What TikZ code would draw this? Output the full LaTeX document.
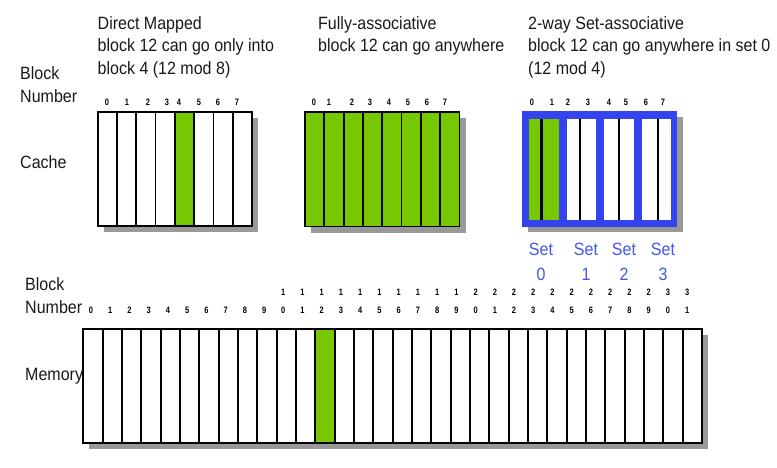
\documentclass[tikz,border=0pt]{standalone}
\usepackage{fontspec}
\setmainfont{Liberation Sans}[FakeStretch=0.9]
\newfontfamily\digitfont{Liberation Sans}[FakeStretch=0.8]
\definecolor{cgreen}{RGB}{118,200,0}
\definecolor{cblue}{RGB}{51,68,238}
\definecolor{ctext}{RGB}{68,85,238}
\definecolor{cshadow}{RGB}{153,153,153}
\definecolor{ctitle}{RGB}{25,25,25}
\tikzset{
  lbl/.style={anchor=base west,inner sep=0,text=ctitle,font=\fontsize{17.8}{21}\selectfont},
  dig/.style={anchor=base,inner sep=0,font=\digitfont\bfseries\fontsize{9.3}{10}\selectfont},
  blk/.style={draw=black,line width=1.8pt},
  shadowbox/.style={fill=cshadow,draw=none},
  setlbl/.style={anchor=base,inner sep=0,text=ctext,font=\fontsize{17.8}{21}\selectfont},
}
\begin{document}
\begin{tikzpicture}[x=1pt,y=-1pt]
\useasboundingbox (0,0) rectangle (777,468);

% ---------- left labels ----------
\node[lbl] (bn1a) at (20,80) {Block};
\node[lbl] (bn1b) at (20,102.7) {Number};
\node[lbl] (cache) at (20,168) {Cache};
\node[lbl] (bn2a) at (25,290) {Block};
\node[lbl] (bn2b) at (25,313) {Number};
\node[lbl] (mem) at (25,380) {Memory};

% ---------- titles ----------
\node[lbl] (dm1) at (97.5,29.5) {Direct Mapped};
\node[lbl] (dm2) at (97.5,52) {block 12 can go only into};
\node[lbl] (dm3) at (97.5,74.5) {block 4 (12 mod 8)};
\node[lbl] (fa1) at (318,29.5) {Fully-associative};
\node[lbl] (fa2) at (318,52) {block 12 can go anywhere};
\node[lbl] (sa1) at (528,29.5) {2-way Set-associative};
\node[lbl] (sa2) at (528,52) {block 12 can go anywhere in set 0};
\node[lbl] (sa3) at (528,74.5) {(12 mod 4)};

% ---------- direct mapped cache ----------
\fill[shadowbox] (103.7,118) rectangle (258,232);
\fill[white] (97.7,112) rectangle (252,226);
\fill[cgreen] ({97.7+4*19.29},112) rectangle ({97.7+5*19.29},226);
\foreach \i in {1,...,7} \draw[blk] ({97.7+\i*19.29},112) -- ({97.7+\i*19.29},226);
\draw[blk] (97.7,112) rectangle (252,226);
\foreach \x [count=\n from 0] in {107,127,148,167,179,199,218,237}
  \node[dig] (dmd\n) at (\x,105.5) {\n};

% ---------- fully associative cache ----------
\fill[shadowbox] (311,118) rectangle (465.5,232.5);
\fill[cgreen] (305,112) rectangle (459.5,226.5);
\foreach \i in {1,...,7} \draw[blk] ({305+\i*19.31},112) -- ({305+\i*19.31},226.5);
\draw[blk] (305,112) rectangle (459.5,226.5);
\foreach \x [count=\n from 0] in {314,329,352,370,389,408,427,445}
  \node[dig] (fad\n) at (\x,105.5) {\n};

% ---------- 2-way set associative cache ----------
\fill[shadowbox] (528,117) rectangle (683,232);
\fill[cblue] (522,111) rectangle (677,227);
\fill[cgreen] (529,119) rectangle (558.5,220);
\foreach \k in {1,2,3}
  \fill[white] ({529+37.5*\k},119) rectangle ({558.5+37.5*\k},220);
\foreach \x in {541.5,580,619,658}
  \draw[black,line width=2.3pt] (\x,119) -- (\x,220);
\foreach \x [count=\n from 0] in {532,552,568,588,609,626,646,663}
  \node[dig] (sad\n) at (\x,105.5) {\n};
\foreach \x [count=\n from 0] in {541,586,624,663}{
  \node[setlbl] (set\n) at (\x,255) {Set};
  \node[setlbl] (setn\n) at (\x,280) {\n};
}

% ---------- memory ----------
\fill[shadowbox] (89.3,335) rectangle (708,449);
\fill[white] (83.3,329) rectangle (702,443);
\fill[cgreen] ({83.3+12*19.334},329) rectangle ({83.3+13*19.334},443);
\foreach \i in {1,...,31} \draw[blk] ({83.3+\i*19.334},329) -- ({83.3+\i*19.334},443);
\draw[blk] (83.3,329) rectangle (702,443);
\foreach \i in {0,...,31}{
  \pgfmathtruncatemacro{\tens}{int(\i/10)}
  \pgfmathtruncatemacro{\ones}{\i-10*\tens}
  \node[dig] (mo\i) at ({91+19.23*\i},313.5) {\ones};
  \ifnum\tens>0
    \node[dig] (mt\i) at ({91+19.23*\i},295) {\tens};
  \fi
}
\end{tikzpicture}
\end{document}
